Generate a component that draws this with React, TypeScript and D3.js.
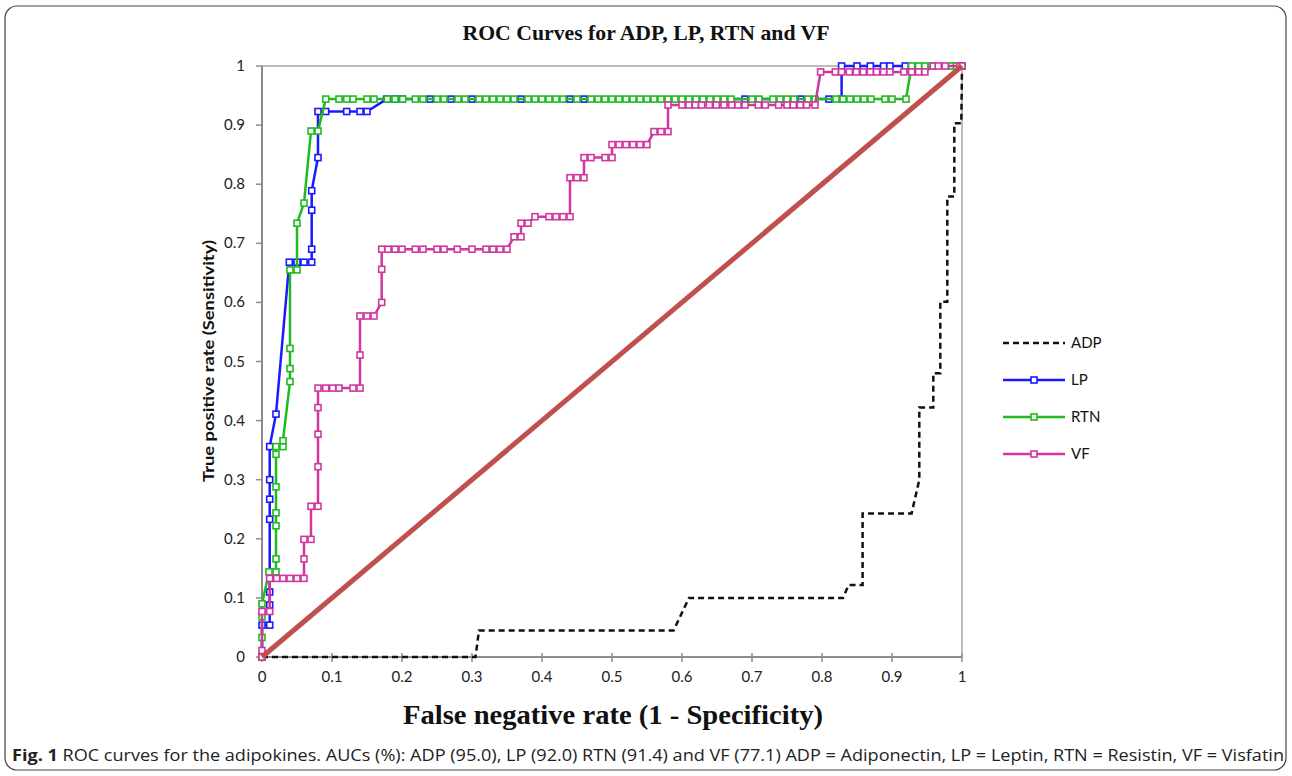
import React from 'react';
import * as d3 from 'd3';

// ---- data (x = 1 - specificity, y = sensitivity) ----
const xTicks = [0, 0.1, 0.2, 0.3, 0.4, 0.5, 0.6, 0.7, 0.8, 0.9, 1];
const yTicks = [0, 0.1, 0.2, 0.3, 0.4, 0.5, 0.6, 0.7, 0.8, 0.9, 1];
const xTickLabels = ['0', '0.1', '0.2', '0.3', '0.4', '0.5', '0.6', '0.7', '0.8', '0.9', '1'];
const yTickLabels = ['0', '0.1', '0.2', '0.3', '0.4', '0.5', '0.6', '0.7', '0.8', '0.9', '1'];

const adpPoints = [
  [0, 0], [0.305, 0], [0.31, 0.045], [0.588, 0.045], [0.61, 0.1], [0.83, 0.1],
  [0.838, 0.122], [0.858, 0.122], [0.858, 0.243], [0.928, 0.243], [0.939, 0.3],
  [0.939, 0.422], [0.959, 0.422], [0.959, 0.48], [0.969, 0.48], [0.969, 0.601],
  [0.979, 0.601], [0.979, 0.779], [0.989, 0.779], [0.989, 0.903], [0.999, 0.903], [1, 1],
];

const lpPoints = [
  [0, 0], [0, 0.054], [0.011, 0.054], [0.011, 0.088], [0.011, 0.11], [0.011, 0.233],
  [0.011, 0.267], [0.011, 0.3], [0.011, 0.356], [0.02, 0.411], [0.039, 0.668],
  [0.05, 0.668], [0.06, 0.668], [0.071, 0.668], [0.071, 0.69], [0.071, 0.756],
  [0.071, 0.789], [0.08, 0.845], [0.08, 0.923], [0.091, 0.923], [0.121, 0.923],
  [0.14, 0.923], [0.15, 0.923], [0.178, 0.944], [0.19, 0.944], [0.2, 0.944],
  [0.24, 0.944], [0.27, 0.944], [0.3, 0.944], [0.37, 0.944], [0.44, 0.944],
  [0.46, 0.944], [0.69, 0.944], [0.77, 0.944], [0.81, 0.944], [0.828, 0.944],
  [0.828, 1], [0.85, 1], [0.869, 1], [0.888, 1], [0.897, 1], [0.919, 1], [1, 1],
];

const rtnPoints = [
  [0, 0], [0, 0.033], [0, 0.068], [0, 0.09], [0.01, 0.144], [0.02, 0.144],
  [0.02, 0.166], [0.02, 0.222], [0.02, 0.244], [0.02, 0.288], [0.02, 0.343],
  [0.02, 0.356], [0.03, 0.356], [0.03, 0.366], [0.04, 0.466], [0.04, 0.488],
  [0.04, 0.522], [0.04, 0.655], [0.05, 0.655], [0.05, 0.734], [0.06, 0.768],
  [0.07, 0.89], [0.08, 0.89], [0.091, 0.944], [0.11, 0.944], [0.121, 0.944],
  [0.13, 0.944], [0.15, 0.944], [0.16, 0.944], [0.179, 0.944], [0.19, 0.944],
  [0.201, 0.944], [0.219, 0.944], [0.23, 0.944], [0.25, 0.944], [0.26, 0.944],
  [0.28, 0.944], [0.29, 0.944], [0.31, 0.944], [0.32, 0.944], [0.33, 0.944],
  [0.34, 0.944], [0.35, 0.944], [0.36, 0.944], [0.38, 0.944], [0.39, 0.944],
  [0.4, 0.944], [0.41, 0.944], [0.42, 0.944], [0.43, 0.944], [0.45, 0.944],
  [0.47, 0.944], [0.48, 0.944], [0.49, 0.944], [0.5, 0.944], [0.51, 0.944],
  [0.52, 0.944], [0.53, 0.944], [0.54, 0.944], [0.55, 0.944], [0.56, 0.944],
  [0.57, 0.944], [0.58, 0.944], [0.59, 0.944], [0.6, 0.944], [0.61, 0.944],
  [0.62, 0.944], [0.63, 0.944], [0.64, 0.944], [0.65, 0.944], [0.66, 0.944],
  [0.67, 0.944], [0.7, 0.944], [0.71, 0.944], [0.73, 0.944], [0.74, 0.944],
  [0.75, 0.944], [0.76, 0.944], [0.78, 0.944], [0.79, 0.944], [0.82, 0.944],
  [0.83, 0.944], [0.84, 0.944], [0.85, 0.944], [0.86, 0.944], [0.87, 0.944],
  [0.89, 0.944], [0.9, 0.944], [0.92, 0.944], [0.928, 1], [0.938, 1],
  [0.947, 1], [0.957, 1], [0.985, 1], [0.992, 1], [1, 1],
];

const vfPoints = [
  [0, 0], [0, 0.011], [0, 0.077], [0.011, 0.077], [0.011, 0.133], [0.021, 0.133],
  [0.03, 0.133], [0.04, 0.133], [0.05, 0.133], [0.06, 0.133], [0.06, 0.166],
  [0.06, 0.199], [0.07, 0.199], [0.07, 0.255], [0.08, 0.255], [0.08, 0.322],
  [0.08, 0.377], [0.08, 0.422], [0.08, 0.455], [0.091, 0.455], [0.101, 0.455],
  [0.11, 0.455], [0.13, 0.455], [0.14, 0.455], [0.14, 0.511], [0.14, 0.577],
  [0.15, 0.577], [0.16, 0.577], [0.171, 0.6], [0.171, 0.656], [0.171, 0.69],
  [0.18, 0.69], [0.19, 0.69], [0.2, 0.69], [0.219, 0.69], [0.23, 0.69],
  [0.25, 0.69], [0.26, 0.69], [0.279, 0.69], [0.3, 0.69], [0.32, 0.69],
  [0.33, 0.69], [0.34, 0.69], [0.35, 0.69], [0.36, 0.711], [0.37, 0.711],
  [0.37, 0.734], [0.38, 0.734], [0.39, 0.745], [0.41, 0.745], [0.42, 0.745],
  [0.43, 0.745], [0.44, 0.745], [0.44, 0.811], [0.45, 0.811], [0.46, 0.811],
  [0.46, 0.845], [0.47, 0.845], [0.49, 0.845], [0.5, 0.845], [0.5, 0.867],
  [0.51, 0.867], [0.52, 0.867], [0.53, 0.867], [0.54, 0.867], [0.55, 0.867],
  [0.56, 0.889], [0.57, 0.889], [0.58, 0.889], [0.58, 0.934], [0.6, 0.934],
  [0.61, 0.934], [0.619, 0.934], [0.628, 0.934], [0.639, 0.934], [0.649, 0.934],
  [0.66, 0.934], [0.671, 0.934], [0.68, 0.934], [0.69, 0.934], [0.709, 0.934],
  [0.719, 0.934], [0.738, 0.934], [0.75, 0.934], [0.759, 0.934], [0.769, 0.934],
  [0.778, 0.934], [0.79, 0.934], [0.798, 0.99], [0.819, 0.99], [0.828, 0.99],
  [0.839, 0.99], [0.849, 0.99], [0.859, 0.99], [0.869, 0.99], [0.878, 0.99],
  [0.888, 0.99], [0.897, 0.99], [0.917, 0.99], [0.928, 0.99], [0.938, 0.99],
  [0.947, 0.99], [0.959, 1], [0.966, 1], [0.976, 1], [0.997, 1], [1, 1],
];

const refLine = [[0, 0], [1, 1]];

const seriesNames = ['ADP', 'LP', 'RTN', 'VF'];
const seriesColors = ['#111111', '#1a1aff', '#1fbb1f', '#d2369e'];

const width = 1292;
const height = 776;
const plot = { left: 262, right: 962, top: 66, bottom: 657 };

const App = () => {
  const x = d3.scaleLinear().domain([0, 1]).range([plot.left, plot.right]);
  const y = d3.scaleLinear().domain([0, 1]).range([plot.bottom, plot.top]);
  const line = d3.line<number[]>().x(d => x(d[0])).y(d => y(d[1]));

  const withMarkers = [
    { pts: lpPoints, color: seriesColors[1] },
    { pts: rtnPoints, color: seriesColors[2] },
    { pts: vfPoints, color: seriesColors[3] },
  ];

  const legendY = [343, 380, 417, 454];

  return (
    <svg width={width} height={height} style={{ position: 'absolute', left: 0, top: 0 }}>
      <rect x={0} y={0} width={width} height={height} fill="#fff" />
      <rect x={5} y={6} width={1281} height={764} rx={12} fill="none" stroke="#444" strokeWidth={1.2} />

      <text x={646} y={40} textAnchor="middle" fontFamily="Liberation Serif, serif" fontWeight="bold" fontSize={21} fill="#111"
        textLength={367} lengthAdjust="spacingAndGlyphs">
        ROC Curves for ADP, LP, RTN and VF
      </text>

      {/* plot frame */}
      <line x1={plot.left} x2={plot.right} y1={plot.top} y2={plot.top} stroke="#a6a6a6" strokeWidth={1.5} />
      <line x1={plot.right} x2={plot.right} y1={plot.top} y2={plot.bottom} stroke="#a6a6a6" strokeWidth={1.5} />
      <line x1={plot.left} x2={plot.left} y1={plot.top} y2={plot.bottom} stroke="#8c8c8c" strokeWidth={2} />
      <line x1={plot.left} x2={plot.right} y1={plot.bottom} y2={plot.bottom} stroke="#8c8c8c" strokeWidth={2} />

      {yTicks.map((t, i) => (
        <g key={'y' + i}>
          <line x1={plot.left - 6} x2={plot.left} y1={y(t)} y2={y(t)} stroke="#8c8c8c" strokeWidth={1.5} />
          <text x={plot.left - 17} y={y(t) + 5} textAnchor="end" fontFamily="Lato, sans-serif" fontSize={15} fill="#222">
            {yTickLabels[i]}
          </text>
        </g>
      ))}
      {xTicks.map((t, i) => (
        <g key={'x' + i}>
          <line x1={x(t)} x2={x(t)} y1={plot.bottom - 4} y2={plot.bottom + 5} stroke="#8c8c8c" strokeWidth={1.5} />
          <text x={x(t)} y={plot.bottom + 25} textAnchor="middle" fontFamily="Lato, sans-serif" fontSize={15} fill="#222">
            {xTickLabels[i]}
          </text>
        </g>
      ))}

      <text transform="translate(214,361) rotate(-90)" textAnchor="middle" fontFamily="Lato, sans-serif" fontWeight="bold" fontSize={16} fill="#111"
        textLength={242} lengthAdjust="spacingAndGlyphs">
        True positive rate (Sensitivity)
      </text>
      <text x={613} y={724} textAnchor="middle" fontFamily="Liberation Serif, serif" fontWeight="bold" fontSize={28} fill="#111"
        textLength={420} lengthAdjust="spacingAndGlyphs">
        False negative rate (1 - Specificity)
      </text>

      {/* series */}
      <path d={line(adpPoints) || ''} fill="none" stroke={seriesColors[0]} strokeWidth={2.5} strokeDasharray="6,4" />
      {withMarkers.map((s, i) => (
        <g key={'s' + i}>
          <path d={line(s.pts) || ''} fill="none" stroke={s.color} strokeWidth={2.5} strokeLinejoin="round" />
          {s.pts.map((p, j) => (
            <rect key={j} x={x(p[0]) - 3} y={y(p[1]) - 3} width={6} height={6} fill="#fff" stroke={s.color} strokeWidth={1.6} />
          ))}
        </g>
      ))}
      <path d={line(refLine) || ''} fill="none" stroke="#c0504d" strokeWidth={5} />

      {/* legend */}
      {seriesNames.map((name, i) => (
        <g key={'l' + i}>
          <line x1={1003} x2={1065} y1={legendY[i]} y2={legendY[i]} stroke={seriesColors[i]} strokeWidth={2.5}
            strokeDasharray={i === 0 ? '6,4' : undefined} />
          {i > 0 && (
            <rect x={1031} y={legendY[i] - 3} width={6} height={6} fill="#fff" stroke={seriesColors[i]} strokeWidth={1.6} />
          )}
          <text x={1071} y={legendY[i] + 5} fontFamily="Lato, sans-serif" fontSize={15} fill="#111">{name}</text>
        </g>
      ))}

      <text x={12} y={761} fontFamily="Open Sans, sans-serif" fontSize={16} fill="#222" textLength={1272} lengthAdjust="spacingAndGlyphs">
        <tspan fontWeight="bold">Fig. 1</tspan> ROC curves for the adipokines. AUCs (%): ADP (95.0), LP (92.0) RTN (91.4) and VF (77.1) ADP = Adiponectin, LP = Leptin, RTN = Resistin, VF = Visfatin
      </text>
    </svg>
  );
};

export default App;
